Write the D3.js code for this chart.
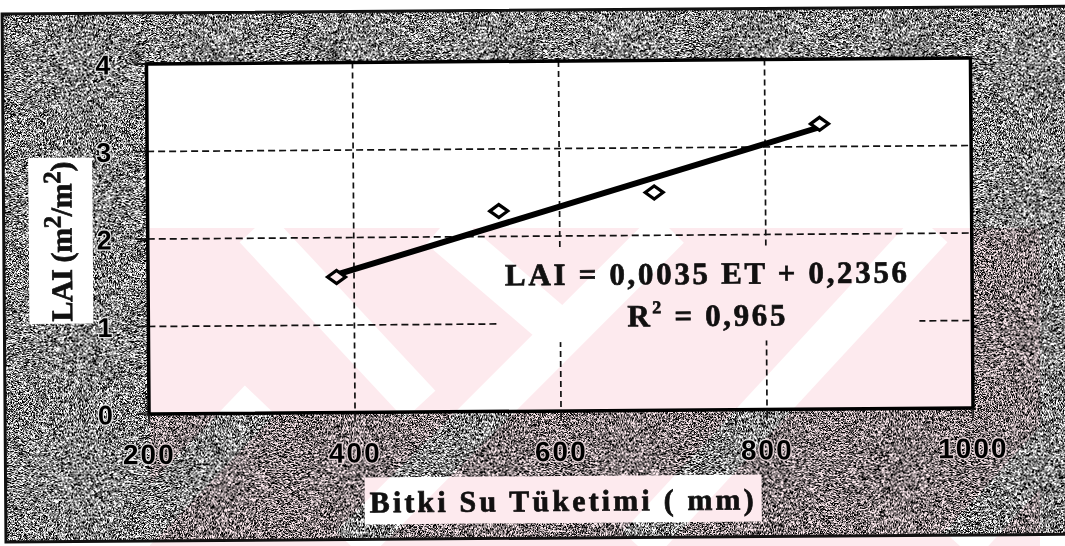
<!DOCTYPE html>
<html>
<head>
<meta charset="utf-8">
<script src="https://cdn.jsdelivr.net/npm/d3@7"></script>
<style>
  body { margin: 0; background: #fff; }
  svg { display: block; }
</style>
</head>
<body>
<script>
var width = 1065,
    height = 546;

// values
var etValues = [383, 541, 692, 853],          // Bitki Su Tüketimi (mm)
    laiValues = [1.55, 2.29, 2.49, 3.26],     // LAI (m2/m2)
    xTicks = [200, 400, 600, 800, 1000],
    yTicks = [0, 1, 2, 3, 4],
    xGrid = [400, 600, 800],
    yGrid = [1, 2, 3],
    trendSlope = 0.0035,
    trendIntercept = 0.2356,
    eqLine = "LAI = 0,0035 ET + 0,2356",
    r2Value = " = 0,965";

var plot = { left: 148, right: 972, top: 61, bottom: 411 };

var x = d3.scaleLinear().domain([200, 1000]).range([plot.left, plot.right]),
    y = d3.scaleLinear().domain([0, 4]).range([plot.bottom, plot.top]);

var svg = d3.select("body").append("svg")
    .attr("width", width)
    .attr("height", height);

var defs = svg.append("defs");

// grainy grey of the scanned page
var grain = defs.append("filter")
    .attr("id", "grain")
    .attr("x", 0).attr("y", 0).attr("width", "100%").attr("height", "100%")
    .attr("color-interpolation-filters", "sRGB");
grain.append("feTurbulence")
    .attr("type", "fractalNoise")
    .attr("baseFrequency", 1.3)
    .attr("numOctaves", 2)
    .attr("seed", 7);
grain.append("feColorMatrix")
    .attr("type", "matrix")
    .attr("values", "1 0 0 0 0  1 0 0 0 0  1 0 0 0 0  0 0 0 0 1");
var ct = grain.append("feComponentTransfer");
["feFuncR", "feFuncG", "feFuncB"].forEach(function(n) {
  ct.append(n).attr("type", "linear").attr("slope", 4.6).attr("intercept", -1.78);
});

// watermark gaps (white bands between the pink stripes)
var mask = defs.append("mask")
    .attr("id", "wm")
    .attr("maskUnits", "userSpaceOnUse")
    .attr("x", 0).attr("y", 0).attr("width", width).attr("height", height);
mask.append("rect").attr("width", width).attr("height", height).attr("fill", "#fff");
var gaps = [[255, 228, 420, 405], [440, 228, 565, 335], [351, 546, 669, 228],
            [638, 546, 932, 228], [960, 546, 1065, 430], [120, 546, 260, 400]];
mask.selectAll("line").data(gaps).enter().append("line")
    .attr("x1", function(d) { return d[0]; })
    .attr("y1", function(d) { return d[1]; })
    .attr("x2", function(d) { return d[2]; })
    .attr("y2", function(d) { return d[3]; })
    .attr("stroke", "#000")
    .attr("stroke-width", 42);

// whole page is slightly tilted in the scan
var page = svg.append("g")
    .attr("transform", "rotate(-0.42,560,270)");

// outer grey frame
page.append("rect")
    .attr("x", 4).attr("y", 10)
    .attr("width", 1075).attr("height", 528)
    .attr("fill", "#888")
    .attr("filter", "url(#grain)");
page.append("rect")
    .attr("x", 4).attr("y", 10)
    .attr("width", 1075).attr("height", 528)
    .attr("fill", "none")
    .attr("stroke", "#111")
    .attr("stroke-width", 3);

// plot area
page.append("rect")
    .attr("x", plot.left).attr("y", plot.top)
    .attr("width", plot.right - plot.left)
    .attr("height", plot.bottom - plot.top)
    .attr("fill", "#fff");

// dashed grid
page.append("g").selectAll("line")
    .data(xGrid).enter().append("line")
    .attr("x1", function(d) { return x(d); })
    .attr("x2", function(d) { return x(d); })
    .attr("y1", plot.top)
    .attr("y2", plot.bottom)
    .attr("stroke", "#111")
    .attr("stroke-width", 1.7)
    .attr("stroke-dasharray", "6,4");
page.append("g").selectAll("line")
    .data(yGrid).enter().append("line")
    .attr("x1", plot.left)
    .attr("x2", plot.right)
    .attr("y1", function(d) { return y(d); })
    .attr("y2", function(d) { return y(d); })
    .attr("stroke", "#111")
    .attr("stroke-width", 1.7)
    .attr("stroke-dasharray", "7,4");

// white box of the trend label hides the grid behind it
page.append("rect")
    .attr("x", 498).attr("y", 250)
    .attr("width", 421).attr("height", 92)
    .attr("fill", "#fff");

// plot frame
page.append("rect")
    .attr("x", plot.left).attr("y", plot.top)
    .attr("width", plot.right - plot.left)
    .attr("height", plot.bottom - plot.top)
    .attr("fill", "none")
    .attr("stroke", "#000")
    .attr("stroke-width", 3.5);

// ticks
page.append("g").selectAll("line")
    .data(yTicks).enter().append("line")
    .attr("x1", plot.left - 12).attr("x2", plot.left)
    .attr("y1", function(d) { return y(d); })
    .attr("y2", function(d) { return y(d); })
    .attr("stroke", "#111").attr("stroke-width", 1.6);
page.append("g").selectAll("line")
    .data(xTicks).enter().append("line")
    .attr("x1", function(d) { return x(d); })
    .attr("x2", function(d) { return x(d); })
    .attr("y1", plot.bottom).attr("y2", plot.bottom + 10)
    .attr("stroke", "#111").attr("stroke-width", 1.6);

// tick labels
var tickFont = "'Liberation Sans', Arial, sans-serif";
page.append("g").selectAll("text")
    .data(yTicks).enter().append("text")
    .attr("x", 112)
    .attr("y", function(d) { return y(d) + 10; })
    .attr("text-anchor", "end")
    .style("font-family", tickFont)
    .style("font-weight", "bold")
    .style("font-size", "27px")
    .style("paint-order", "stroke")
    .attr("stroke", "#e4e4e4").attr("stroke-width", 2.5)
    .attr("fill", "#000")
    .text(function(d) { return d; });
page.append("g").selectAll("text")
    .data(xTicks).enter().append("text")
    .attr("x", function(d) { return x(d); })
    .attr("y", 461)
    .attr("text-anchor", "middle")
    .style("font-family", tickFont)
    .style("font-weight", "bold")
    .style("font-size", "28px")
    .style("letter-spacing", "2px")
    .style("paint-order", "stroke")
    .attr("stroke", "#e4e4e4").attr("stroke-width", 2.5)
    .attr("fill", "#000")
    .text(function(d) { return d; });

// trend line from the fitted equation
var trend = d3.line()
    .x(function(d) { return x(d); })
    .y(function(d) { return y(trendSlope * d + trendIntercept); });
page.append("path")
    .attr("d", trend(d3.extent(etValues)))
    .attr("fill", "none")
    .attr("stroke", "#000")
    .attr("stroke-width", 6);

// hollow diamonds
var diamond = d3.line()([[-9, 0], [0, -6.5], [9, 0], [0, 6.5]]) + "Z";
page.append("g").selectAll("path")
    .data(etValues).enter().append("path")
    .attr("d", diamond)
    .attr("transform", function(d, i) {
      return "translate(" + x(d) + "," + y(laiValues[i]) + ")";
    })
    .attr("fill", "#fff")
    .attr("stroke", "#000")
    .attr("stroke-width", 3.2);

// equation text
var serif = "'Liberation Serif', 'Times New Roman', serif";
function heavy(sel, size) {
  return sel.style("font-family", serif)
    .style("font-weight", "bold")
    .style("font-size", size + "px")
    .attr("fill", "#111")
    .attr("stroke", "#111")
    .attr("stroke-width", 0.7);
}
heavy(page.append("text"), 31)
    .attr("x", 505).attr("y", 285)
    .attr("textLength", 402)
    .attr("lengthAdjust", "spacing")
    .text(eqLine);
var r2 = heavy(page.append("text"), 31)
    .attr("x", 627).attr("y", 327)
    .attr("textLength", 158)
    .attr("lengthAdjust", "spacing");
r2.append("tspan").text("R");
r2.append("tspan").attr("dy", -13).style("font-size", "18px").text("2");
r2.append("tspan").attr("dy", 13).text(r2Value);

// axis titles on white boxes
page.append("rect")
    .attr("x", 363).attr("y", 476)
    .attr("width", 397).attr("height", 47)
    .attr("fill", "#fff");
heavy(page.append("text"), 30)
    .attr("x", 368).attr("y", 511)
    .attr("textLength", 384)
    .attr("lengthAdjust", "spacing")
    .text("Bitki Su Tüketimi ( mm)");

page.append("rect")
    .attr("x", 29).attr("y", 154)
    .attr("width", 64).attr("height", 166)
    .attr("fill", "#fff");
var yTitle = heavy(page.append("text"), 30)
    .attr("transform", "translate(72,318) rotate(-90)")
    .attr("textLength", 160)
    .attr("lengthAdjust", "spacing");
yTitle.append("tspan").text("LAI (m");
yTitle.append("tspan").attr("dy", -11).style("font-size", "25px").text("2");
yTitle.append("tspan").attr("dy", 11).text("/m");
yTitle.append("tspan").attr("dy", -11).style("font-size", "25px").text("2");
yTitle.append("tspan").attr("dy", 11).text(")");

// pale pink watermark over everything
svg.append("rect")
    .attr("x", 150).attr("y", 228)
    .attr("width", 890).attr("height", 318)
    .attr("fill", "#fdeaee")
    .attr("mask", "url(#wm)")
    .style("mix-blend-mode", "multiply");
</script>
</body>
</html>
